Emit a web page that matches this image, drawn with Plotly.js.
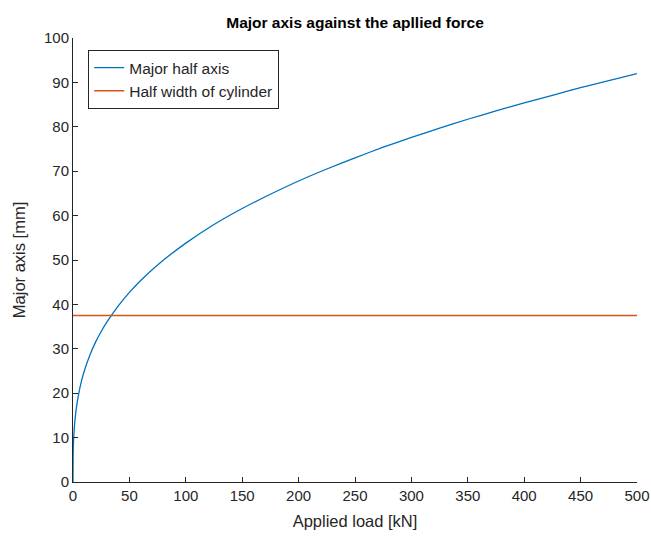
<!DOCTYPE html>
<html>
<head>
<meta charset="utf-8">
<script src="https://cdn.plot.ly/plotly-3.0.1.min.js"></script>
<style>html,body{margin:0;padding:0;background:#fff;}#chart{width:651px;height:536px;}</style>
</head>
<body>
<div id="chart"></div>
<script>
// Applied load [kN]
var loadKN = [0, 0.1, 0.25, 0.5, 1, 2, 3, 5, 7.5, 10, 15, 20, 25, 30, 40, 50, 60, 75, 100, 125, 150, 175, 200, 225, 250, 275, 300, 325, 350, 375, 400, 425, 450, 475, 500];
// Major half axis [mm]
var majorHalfAxis = [0, 5.4, 7.3, 9.2, 11.6, 14.6, 16.7, 19.8, 22.7, 25.0, 28.6, 31.5, 33.9, 36.0, 39.6, 42.7, 45.4, 48.9, 53.8, 58.0, 61.6, 64.8, 67.8, 70.5, 73.0, 75.4, 77.6, 79.7, 81.7, 83.6, 85.4, 87.1, 88.8, 90.4, 92.0];
// Half width of cylinder [mm]
var cylLoad = [0, 125, 250, 375, 500];
var cylHalfWidth = [37.5, 37.5, 37.5, 37.5, 37.5];

var axisColor = '#262626';
var fam = 'Liberation Sans, Arial, sans-serif';

var traces = [
  {x: loadKN, y: majorHalfAxis, type: 'scatter', mode: 'lines', name: 'Major half axis',
   line: {color: '#0072BD', width: 1.3, shape: 'spline', smoothing: 0.6}},
  {x: cylLoad, y: cylHalfWidth, type: 'scatter', mode: 'lines', name: 'Half width of cylinder',
   line: {color: '#D95319', width: 1.4}}
];

var layout = {
  width: 651, height: 536,
  margin: {l: 73, r: 14, t: 38, b: 54},
  paper_bgcolor: '#fff', plot_bgcolor: '#fff',
  font: {family: fam, size: 15, color: axisColor},
  title: {text: '<b>Major axis against the apllied force</b>', font: {family: fam, size: 15.5, color: '#000'},
          x: 0.5, xref: 'paper', y: 1, yref: 'paper', yanchor: 'bottom', pad: {b: 10}},
  xaxis: {range: [0, 500], tickvals: [0,50,100,150,200,250,300,350,400,450,500],
          ticks: 'inside', ticklen: 5, tickcolor: axisColor, showgrid: false, zeroline: false,
          showline: true, linecolor: axisColor, linewidth: 1, mirror: false,
          tickfont: {family: fam, size: 15, color: axisColor},
          title: {text: 'Applied load [kN]', font: {family: fam, size: 16.5, color: axisColor}, standoff: 12}},
  yaxis: {range: [0, 100], tickvals: [0,10,20,30,40,50,60,70,80,90,100],
          ticks: 'inside', ticklen: 5, tickcolor: axisColor, showgrid: false, zeroline: false,
          showline: true, linecolor: axisColor, linewidth: 1, mirror: false,
          tickfont: {family: fam, size: 15, color: axisColor},
          title: {text: 'Major axis [mm]', font: {family: fam, size: 16.5, color: axisColor}, standoff: 14}},
  showlegend: true,
  legend: {x: 0.027, y: 0.973, xanchor: 'left', yanchor: 'top', bgcolor: '#fff',
           bordercolor: axisColor, borderwidth: 1, font: {family: fam, size: 15.5, color: axisColor},
           tracegroupgap: 0, itemwidth: 30}
};

Plotly.newPlot('chart', traces, layout, {displayModeBar: false, staticPlot: true});
</script>
</body>
</html>
